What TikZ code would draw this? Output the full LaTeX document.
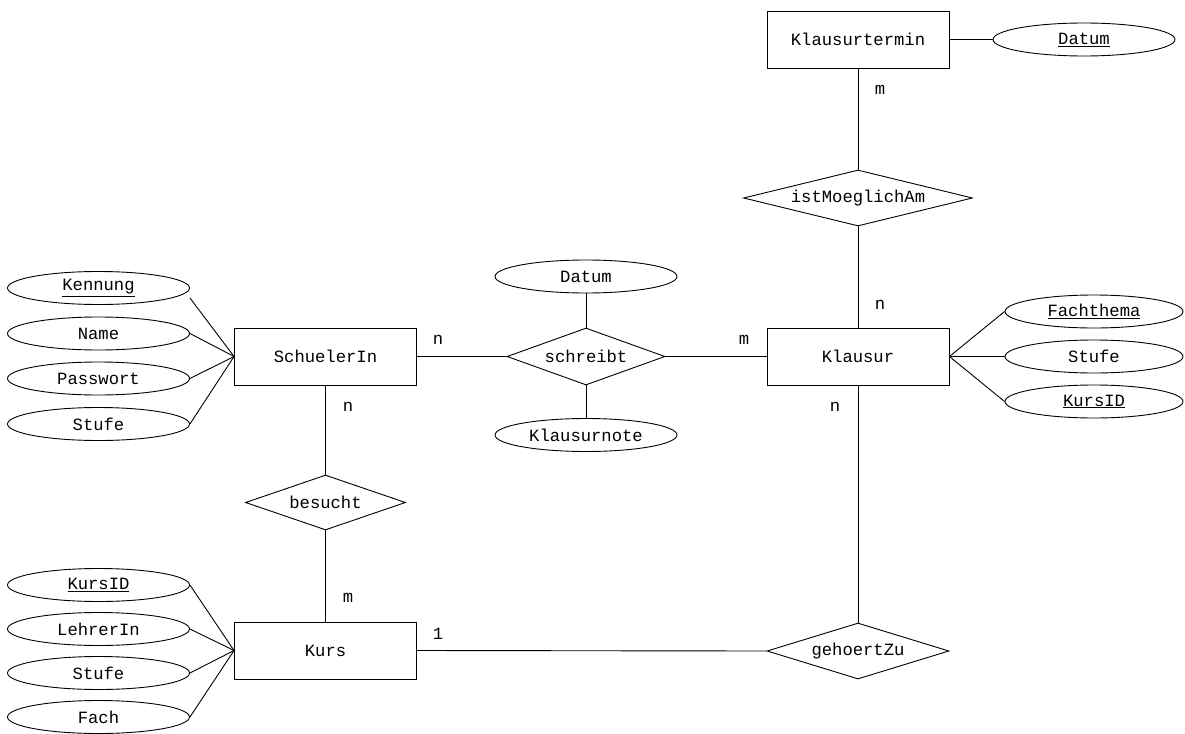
\documentclass[tikz,border=0pt]{standalone}
\usepackage{fontspec}
\setmainfont{Liberation Mono}
\usetikzlibrary{shapes.geometric}

\tikzset{
  every node/.style={font=\fontsize{17.2}{20}\selectfont},
  entity/.style={draw, rectangle, minimum width=182pt, minimum height=57pt, inner sep=0pt},
  attr/.style={draw, ellipse, minimum width=182pt, minimum height=33pt, inner sep=0pt},
  rel/.style={draw, diamond, aspect=4, inner sep=0pt},
  card/.style={inner sep=0pt},
  link/.style={line width=0.9pt},
}

\begin{document}
\begin{tikzpicture}[x=1pt, y=-1pt, line width=0.9pt]
\useasboundingbox (0,0) rectangle (1185,733);

% Entities
\node[entity] (termin)   at (858,39.5)  {Klausurtermin};
\node[entity] (klausur)  at (858,356.5) {Klausur};
\node[entity] (schueler) at (325.5,356.5) {SchuelerIn};
\node[entity] (kurs)     at (325.5,650.5) {Kurs};

% Relationships
\node[rel, minimum width=229pt, minimum height=56pt] (moeglich) at (858,198) {istMoeglichAm};
\node[rel, minimum width=158pt, minimum height=57pt] (schreibt) at (586,356.5) {schreibt};
\node[rel, minimum width=160pt, minimum height=55pt] (besucht)  at (325.5,502.5) {besucht};
\node[rel, minimum width=182pt, minimum height=56pt] (gehoert)  at (858,651) {gehoertZu};

% Attributes of Klausurtermin
\node[attr] (tdatum) at (1084,39.5) {\underline{Datum}};

% Attributes of schreibt
\node[attr] (sdatum) at (586,276.5) {Datum};
\node[attr] (snote)  at (586,435)   {Klausurnote};

% Attributes of Klausur
\node[attr, minimum width=178pt] (kthema) at (1094,311.5) {\underline{Fachthema}};
\node[attr, minimum width=178pt] (kstufe) at (1094,356.5) {Stufe};
\node[attr, minimum width=178pt] (kkurs)  at (1094,401.5) {\underline{KursID}};

% Attributes of SchuelerIn
\node[attr] (skenn) at (98.5,288)   {\underline{Kennung}};
\node[attr] (sname) at (98.5,333.5) {Name};
\node[attr] (spass) at (98.5,378.5) {Passwort};
\node[attr] (sstufe) at (98.5,424)  {Stufe};

% Attributes of Kurs
\node[attr] (kid)     at (98.5,585) {\underline{KursID}};
\node[attr] (klehrer) at (98.5,629) {LehrerIn};
\node[attr] (kustufe) at (98.5,673) {Stufe};
\node[attr] (kfach)   at (98.5,717) {Fach};

% Relationship lines
\draw[link] (termin.east) -- (tdatum.west);
\draw[link] (termin.south) -- (moeglich.north);
\draw[link] (moeglich.south) -- (klausur.north);
\draw[link] (schueler.east) -- (schreibt.west);
\draw[link] (schreibt.east) -- (klausur.west);
\draw[link] (sdatum.south) -- (schreibt.north);
\draw[link] (schreibt.south) -- (snote.north);
\draw[link] (schueler.south) -- (besucht.north);
\draw[link] (besucht.south) -- (kurs.north);
\draw[link] (kurs.east) -- (gehoert.west);
\draw[link] (klausur.south) -- (gehoert.north);

% Attribute lines
\draw[link] (klausur.east) -- (kthema.west);
\draw[link] (klausur.east) -- (kstufe.west);
\draw[link] (klausur.east) -- (kkurs.west);
\draw[link] ([yshift=-10pt]skenn.east) -- (schueler.west);
\draw[link] (sname.east) -- (schueler.west);
\draw[link] (spass.east) -- (schueler.west);
\draw[link] (sstufe.east) -- (schueler.west);
\draw[link] (kid.east) -- (kurs.west);
\draw[link] (klehrer.east) -- (kurs.west);
\draw[link] (kustufe.east) -- (kurs.west);
\draw[link] (kfach.east) -- (kurs.west);

% Cardinalities
\node[card] (c1) at (880,90)  {m};
\node[card] (c2) at (880,305) {n};
\node[card] (c3) at (438,340) {n};
\node[card] (c4) at (744,340) {m};
\node[card] (c5) at (348,407) {n};
\node[card] (c6) at (348,598) {m};
\node[card] (c7) at (438,634) {1};
\node[card] (c8) at (835,407) {n};
\end{tikzpicture}
\end{document}
